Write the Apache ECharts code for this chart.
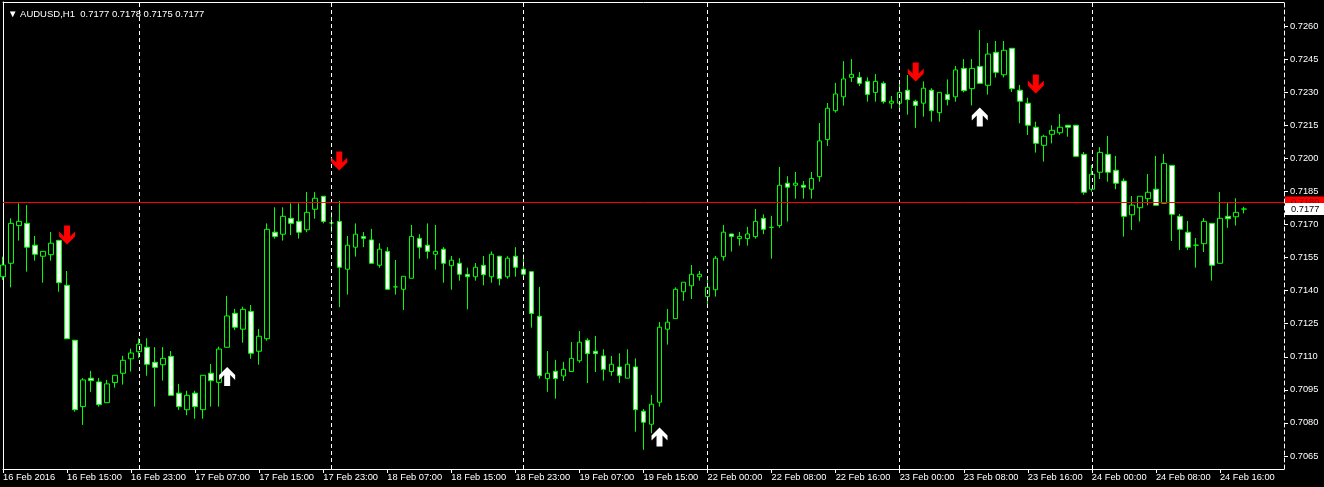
<!DOCTYPE html>
<html>
<head>
<meta charset="utf-8">
<title>AUDUSD,H1</title>
<script src="https://cdn.jsdelivr.net/npm/echarts@6/dist/echarts.min.js"></script>
<style>
  html, body { margin: 0; padding: 0; background: #000; }
  #chart { width: 1324px; height: 487px; }
</style>
</head>
<body>
<div id="chart"></div>
<script>
// H1 bars, 16 Feb 07:00 .. 24 Feb 19:00 (trading hours only)
const sessions = [
  ['16 Feb', 7, 23], ['17 Feb', 0, 23], ['18 Feb', 0, 23], ['19 Feb', 0, 22],
  ['22 Feb', 0, 23], ['23 Feb', 0, 23], ['24 Feb', 0, 19]
]

const tickLabels = [
  '16 Feb 2016', '16 Feb 15:00', '16 Feb 23:00', '17 Feb 07:00', '17 Feb 15:00',
  '17 Feb 23:00', '18 Feb 07:00', '18 Feb 15:00', '18 Feb 23:00', '19 Feb 07:00',
  '19 Feb 15:00', '22 Feb 00:00', '22 Feb 08:00', '22 Feb 16:00', '23 Feb 00:00',
  '23 Feb 08:00', '23 Feb 16:00', '24 Feb 00:00', '24 Feb 08:00', '24 Feb 16:00'
]

const priceTicks = [
  0.7065, 0.7080, 0.7095, 0.7110, 0.7125, 0.7140, 0.7155,
  0.7170, 0.7185, 0.7200, 0.7215, 0.7230, 0.7245, 0.7260
]

const separators = ['17 Feb 00:00', '18 Feb 00:00', '19 Feb 00:00', '22 Feb 00:00', '23 Feb 00:00', '24 Feb 00:00']

const opens = [
  0.71463, 0.71524, 0.71695, 0.71705, 0.71606, 0.71556, 0.71563, 0.71628, 0.71424, 0.71175,
  0.70874, 0.71003, 0.70986, 0.70892, 0.70983, 0.71025, 0.71091, 0.71123, 0.71143, 0.71075,
  0.71064, 0.71102, 0.70935, 0.70860, 0.70935, 0.70860, 0.71025, 0.70984, 0.71143, 0.71297,
  0.71225, 0.71305, 0.71125, 0.71182, 0.71665, 0.71656, 0.71728, 0.71714, 0.71676, 0.71769,
  0.71828, 0.71707, 0.71714, 0.71497, 0.71597, 0.71645, 0.71630, 0.71515, 0.71578, 0.71417,
  0.71406, 0.71456, 0.71637, 0.71606, 0.71565, 0.71588, 0.71513, 0.71524, 0.71474, 0.71463,
  0.71515, 0.71463, 0.71556, 0.71463, 0.71556, 0.71497, 0.71486, 0.71284, 0.71001, 0.71034,
  0.71013, 0.71033, 0.71082, 0.71175, 0.71125, 0.71104, 0.71033, 0.71054, 0.71003, 0.71054,
  0.70853, 0.70794, 0.70894, 0.71225, 0.71273, 0.71395, 0.71422, 0.71463, 0.71373, 0.71404,
  0.71554, 0.71657, 0.71636, 0.71636, 0.71645, 0.71728, 0.71687, 0.71695, 0.71887, 0.71878,
  0.71878, 0.71860, 0.71917, 0.72085, 0.72216, 0.72279, 0.72367, 0.72367, 0.72349, 0.72299,
  0.72340, 0.72250, 0.72250, 0.72309, 0.72259, 0.72250, 0.72309, 0.72207, 0.72290, 0.72279,
  0.72408, 0.72316, 0.72417, 0.72331, 0.72481, 0.72379, 0.72499, 0.72309, 0.72250, 0.72141,
  0.72059, 0.72109, 0.72116, 0.72150, 0.72150, 0.72018, 0.71860, 0.71937, 0.72018, 0.71946,
  0.71897, 0.71744, 0.71776, 0.71817, 0.71860, 0.71796, 0.71968, 0.71737, 0.71665, 0.71606,
  0.71613, 0.71705, 0.71524, 0.71737, 0.71735, 0.71770
]
const highs = [
  0.71554, 0.71728, 0.71796, 0.71788, 0.71648, 0.71578, 0.71666, 0.71630, 0.71489, 0.71175,
  0.71003, 0.71036, 0.71004, 0.70995, 0.71016, 0.71104, 0.71137, 0.71184, 0.71184, 0.71144,
  0.71144, 0.71126, 0.70977, 0.70946, 0.70946, 0.71016, 0.71067, 0.71146, 0.71376, 0.71317,
  0.71327, 0.71335, 0.71226, 0.71705, 0.71778, 0.71778, 0.71796, 0.71796, 0.71847, 0.71847,
  0.71828, 0.71757, 0.71807, 0.71648, 0.71705, 0.71666, 0.71680, 0.71615, 0.71597, 0.71539,
  0.71465, 0.71698, 0.71656, 0.71705, 0.71698, 0.71597, 0.71557, 0.71547, 0.71504, 0.71525,
  0.71557, 0.71578, 0.71556, 0.71556, 0.71597, 0.71565, 0.71486, 0.71417, 0.71126, 0.71086,
  0.71077, 0.71167, 0.71217, 0.71184, 0.71194, 0.71134, 0.71104, 0.71116, 0.71134, 0.71093,
  0.70863, 0.70927, 0.71258, 0.71317, 0.71415, 0.71438, 0.71516, 0.71489, 0.71448, 0.71557,
  0.71698, 0.71657, 0.71666, 0.71689, 0.71770, 0.71746, 0.71739, 0.71961, 0.71919, 0.71938,
  0.71897, 0.71938, 0.72160, 0.72251, 0.72342, 0.72441, 0.72450, 0.72391, 0.72367, 0.72382,
  0.72349, 0.72283, 0.72340, 0.72378, 0.72266, 0.72349, 0.72318, 0.72299, 0.72358, 0.72419,
  0.72450, 0.72450, 0.72582, 0.72523, 0.72532, 0.72532, 0.72499, 0.72333, 0.72275, 0.72166,
  0.72107, 0.72150, 0.72201, 0.72150, 0.72150, 0.72029, 0.71970, 0.72051, 0.72101, 0.72011,
  0.71909, 0.71829, 0.71828, 0.71929, 0.72011, 0.72020, 0.71968, 0.71748, 0.71716, 0.71639,
  0.71729, 0.71705, 0.71847, 0.71797, 0.71819, 0.71780
]
const lows = [
  0.71448, 0.71415, 0.71627, 0.71486, 0.71536, 0.71436, 0.71536, 0.71395, 0.71180, 0.70851,
  0.70791, 0.70941, 0.70874, 0.70892, 0.70960, 0.70974, 0.71033, 0.71093, 0.71014, 0.70874,
  0.70992, 0.70925, 0.70859, 0.70835, 0.70819, 0.70819, 0.70874, 0.70874, 0.71143, 0.71222,
  0.71164, 0.71091, 0.71064, 0.71173, 0.71636, 0.71627, 0.71652, 0.71636, 0.71665, 0.71726,
  0.71705, 0.71663, 0.71325, 0.71382, 0.71554, 0.71597, 0.71524, 0.71504, 0.71406, 0.71382,
  0.71312, 0.71456, 0.71545, 0.71545, 0.71495, 0.71436, 0.71404, 0.71445, 0.71315, 0.71445,
  0.71424, 0.71436, 0.71424, 0.71454, 0.71463, 0.71454, 0.71232, 0.71001, 0.70941, 0.70910,
  0.70990, 0.71033, 0.71073, 0.70981, 0.71031, 0.70992, 0.71014, 0.70981, 0.71003, 0.70760,
  0.70678, 0.70753, 0.70874, 0.71155, 0.71273, 0.71354, 0.71362, 0.71445, 0.71335, 0.71373,
  0.71536, 0.71577, 0.71604, 0.71604, 0.71636, 0.71656, 0.71545, 0.71685, 0.71713, 0.71817,
  0.71817, 0.71817, 0.71894, 0.72056, 0.72207, 0.72239, 0.72346, 0.72328, 0.72257, 0.72257,
  0.72248, 0.72225, 0.72227, 0.72198, 0.72138, 0.72189, 0.72166, 0.72166, 0.72240, 0.72257,
  0.72299, 0.72240, 0.72337, 0.72289, 0.72367, 0.72367, 0.72301, 0.72159, 0.72106, 0.72026,
  0.71985, 0.72068, 0.72107, 0.72098, 0.72009, 0.71835, 0.71849, 0.71906, 0.71894, 0.71860,
  0.71645, 0.71675, 0.71713, 0.71787, 0.71787, 0.71796, 0.71625, 0.71584, 0.71584, 0.71504,
  0.71575, 0.71445, 0.71524, 0.71685, 0.71695, 0.71750
]
const closes = [
  0.71516, 0.71705, 0.71714, 0.71597, 0.71565, 0.71578, 0.71615, 0.71436, 0.71182, 0.70860,
  0.70995, 0.70992, 0.70883, 0.70977, 0.71016, 0.71084, 0.71117, 0.71157, 0.71066, 0.71052,
  0.71093, 0.70925, 0.70874, 0.70925, 0.70874, 0.71016, 0.70992, 0.71135, 0.71285, 0.71234,
  0.71315, 0.71116, 0.71193, 0.71678, 0.71646, 0.71737, 0.71705, 0.71665, 0.71755, 0.71819,
  0.71714, 0.71707, 0.71506, 0.71606, 0.71656, 0.71637, 0.71524, 0.71588, 0.71406, 0.71417,
  0.71465, 0.71646, 0.71597, 0.71578, 0.71578, 0.71524, 0.71538, 0.71474, 0.71463, 0.71506,
  0.71472, 0.71565, 0.71454, 0.71547, 0.71506, 0.71474, 0.71296, 0.71014, 0.71025, 0.71001,
  0.71043, 0.71093, 0.71166, 0.71114, 0.71114, 0.71043, 0.71066, 0.71014, 0.71066, 0.70860,
  0.70803, 0.70885, 0.71234, 0.71257, 0.71406, 0.71438, 0.71474, 0.71474, 0.71415, 0.71547,
  0.71665, 0.71646, 0.71646, 0.71657, 0.71714, 0.71678, 0.71687, 0.71878, 0.71869, 0.71887,
  0.71869, 0.71909, 0.72079, 0.72227, 0.72292, 0.72360, 0.72381, 0.72340, 0.72290, 0.72349,
  0.72257, 0.72259, 0.72299, 0.72266, 0.72240, 0.72318, 0.72216, 0.72299, 0.72266, 0.72401,
  0.72307, 0.72408, 0.72340, 0.72473, 0.72390, 0.72490, 0.72316, 0.72259, 0.72150, 0.72068,
  0.72100, 0.72127, 0.72141, 0.72141, 0.72009, 0.71846, 0.71928, 0.72027, 0.71937, 0.71887,
  0.71737, 0.71788, 0.71828, 0.71846, 0.71787, 0.71977, 0.71746, 0.71678, 0.71597, 0.71606,
  0.71714, 0.71515, 0.71728, 0.71726, 0.71755, 0.71770
]

// signal arrows: bar index and price
const sellIdx = [8, 42, 114, 129]
const sellPrice = [0.71652, 0.71988, 0.72391, 0.72337]
const buyIdx = [28, 82, 122]
const buyPrice = [0.71010, 0.70736, 0.72187]

const hLinePrice = 0.7180
const lastPrice = 0.7177

const FONT = 'Liberation Sans'
const ARROW = 'path://M8,0 L16,8 L16,13 L11,8 L11,19 L5,19 L5,8 L0,13 L0,8 Z'
const Y_MIN = 0.70591
const Y_MAX = 0.72709

// category axis: bar times + a few empty slots on the right (chart shift)
const times = []
sessions.forEach(([day, from, to]) => {
  for (let h = from; h <= to; h++) times.push(day + ' ' + String(h).padStart(2, '0') + ':00')
})
for (let k = 1; k <= 5; k++) times.push('shift' + k)

const candleData = opens.map((o, i) => [o, closes[i], lows[i], highs[i]])
const showTick = (i) => i % 8 === 0 && i / 8 < tickLabels.length

const priceLabel = (bg, fg, text) => ({
  position: 'end', distance: 1, formatter: text,
  backgroundColor: bg, color: fg, padding: [1, 6, 1, 6],
  fontSize: 9.3, fontFamily: FONT, lineHeight: 10
})

const chart = echarts.init(document.getElementById('chart'))
chart.setOption({
  backgroundColor: '#000',
  animation: false,
  title: {
    text: '▼ AUDUSD,H1  0.7177 0.7178 0.7175 0.7177',
    left: 3,
    top: 4,
    textStyle: { color: '#fff', fontSize: 9.5, fontWeight: 'normal', fontFamily: FONT }
  },
  grid: { left: 2, right: 40, top: 2, bottom: 18 },
  xAxis: [
    {
      type: 'category',
      data: times,
      boundaryGap: false,
      axisLine: { lineStyle: { color: '#fff' } },
      axisTick: { interval: showTick, length: 4, lineStyle: { color: '#fff' } },
      axisLabel: {
        interval: showTick,
        formatter: (v, i) => tickLabels[i / 8],
        color: '#fff', fontSize: 9.3, fontFamily: FONT, align: 'left', margin: 4
      },
      splitLine: { show: false }
    },
    {
      // top frame edge
      type: 'category',
      data: times,
      boundaryGap: false,
      position: 'top',
      axisLine: { lineStyle: { color: '#fff' } },
      axisTick: { show: false },
      axisLabel: { show: false }
    }
  ],
  yAxis: [
    {
      type: 'value',
      position: 'right',
      min: Y_MIN,
      max: Y_MAX,
      splitLine: { show: false },
      axisLine: { show: true, lineStyle: { color: '#fff', type: [4, 3] } },
      axisTick: { show: true, customValues: priceTicks, length: 4, lineStyle: { color: '#fff', type: 'solid' } },
      axisLabel: {
        customValues: priceTicks,
        formatter: v => v.toFixed(4),
        color: '#fff', fontSize: 9.3, fontFamily: FONT, margin: 6
      }
    },
    {
      // left frame edge
      type: 'value',
      position: 'left',
      min: Y_MIN,
      max: Y_MAX,
      splitLine: { show: false },
      axisLine: { show: true, lineStyle: { color: '#fff' } },
      axisTick: { show: false },
      axisLabel: { show: false }
    }
  ],
  series: [
    {
      // day separators + horizontal line and price tags
      type: 'line',
      data: [],
      z: 1,
      markLine: {
        silent: true,
        symbol: 'none',
        precision: 5,
        data: [
          ...separators.map(s => ({
            xAxis: s,
            label: { show: false },
            lineStyle: { color: '#fff', type: [4, 3], width: 1 }
          })),
          {
            yAxis: hLinePrice,
            lineStyle: { color: '#ff0000', width: 1, type: 'solid' },
            label: priceLabel('#ff0000', '#7a0000', hLinePrice.toFixed(4))
          },
          {
            yAxis: lastPrice,
            lineStyle: { color: 'rgba(0,0,0,0)', width: 1 },
            label: priceLabel('#ffffff', '#000000', lastPrice.toFixed(4))
          }
        ]
      }
    },
    {
      type: 'candlestick',
      data: candleData,
      barWidth: 5,
      z: 3,
      itemStyle: {
        color: '#000',
        color0: '#fff',
        borderColor: '#00ff00',
        borderColor0: '#00ff00',
        borderColorDoji: '#00ff00',
        borderWidth: 1
      }
    },
    {
      type: 'scatter',
      z: 5,
      symbol: ARROW,
      symbolSize: [16, 19],
      symbolRotate: 180,
      itemStyle: { color: '#ff0000', opacity: 1 },
      data: sellIdx.map((x, i) => [x, sellPrice[i]])
    },
    {
      type: 'scatter',
      z: 5,
      symbol: ARROW,
      symbolSize: [16, 19],
      itemStyle: { color: '#ffffff', opacity: 1 },
      data: buyIdx.map((x, i) => [x, buyPrice[i]])
    }
  ]
})
</script>
</body>
</html>
